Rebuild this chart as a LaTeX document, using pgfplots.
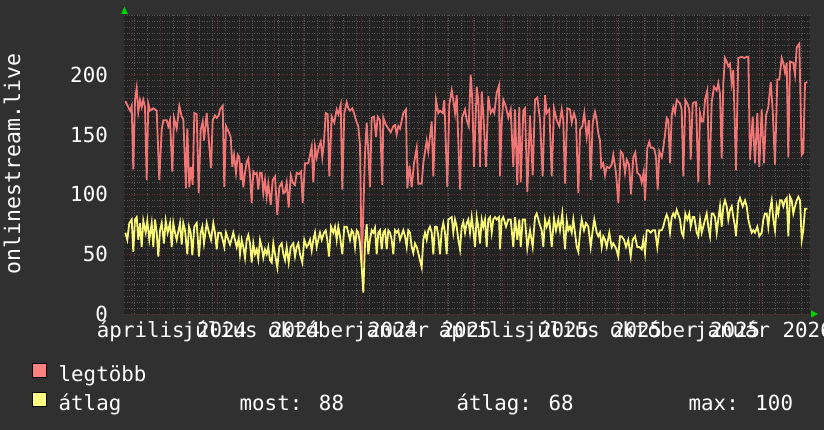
\documentclass[border=0pt]{standalone}
\usepackage{pgfplots}
\pgfplotsset{compat=1.18}
\usepackage{fontspec}
\setmainfont{DejaVu Sans Mono}
\definecolor{canvas}{RGB}{48,48,48}
\definecolor{plotbg}{RGB}{34,34,34}
\definecolor{mingrid}{RGB}{85,85,85}
\definecolor{majgrid}{RGB}{100,48,48}
\definecolor{redline}{RGB}{240,118,118}
\definecolor{yelline}{RGB}{248,248,118}
\definecolor{redbox}{RGB}{255,128,128}
\definecolor{yelbox}{RGB}{255,255,128}
\definecolor{arrowgreen}{RGB}{0,210,0}
\newcommand\lfont{\fontsize{20.8pt}{24pt}\selectfont}
\begin{document}
\begin{tikzpicture}
\useasboundingbox (0pt,0pt) rectangle (824pt,430pt);
\fill[canvas] (0pt,0pt) rectangle (824pt,430pt);
\begin{axis}[
  at={(124pt,116pt)}, anchor=south west,
  scale only axis, width=686pt, height=299pt,
  xmin=124, xmax=810, ymin=0, ymax=250,
  axis background/.style={fill=plotbg},
  axis line style={draw=none},
  xtick={131.7,160.69,188.75,217.75,245.81,274.80,303.79,331.85,360.85,388.91,417.90,446.90,473.08,502.08,530.14,559.13,587.20,616.19,645.18,673.24,702.23,730.29,759.29,788.28},
  xticklabels={},
  minor xtick={134.2,147.29,...,810},
  extra x ticks={172.1,251.4,343.1,422.9,514.1,593.4,685.1,763.9},
  extra x tick labels={április 2024,július 2024,október 2024,január 2025,április 2025,július 2025,október 2025,január 2026},
  extra x tick style={grid=none},
  ytick={0,50,100,150,200},
  minor ytick={0,5,...,250},
  grid=both,
  major grid style={draw=majgrid, line width=0.7pt, dash pattern=on 1pt off 1.5pt},
  minor grid style={draw=mingrid, line width=0.7pt, dash pattern=on 1pt off 1.5pt},
  major tick length=0pt, minor tick length=0pt,
  tick style={draw=none},
  /pgf/number format/assume math mode=true,
  every tick label/.append style={font=\lfont, text=white, inner sep=0pt},
  xticklabel style={anchor=base, yshift=-24pt},
  yticklabel style={anchor=east, xshift=-16pt},
  clip=false,
  legend cell align=left,
  legend style={at={(axis description cs:-0.13411,-0.1629)}, anchor=north west,
    draw=none, fill=none, inner sep=0pt, outer sep=0pt, row sep=6pt,
    nodes={inner sep=0pt, text=white, font=\lfont, text height=15pt, text depth=5pt},
    /tikz/every odd column/.append style={column sep=12pt}},
]
\addplot[redline, line width=1.8pt, sharp plot,
  legend image code/.code={\draw[black, fill=redbox, line width=0.7pt] (0pt,-1pt) rectangle (14pt,13pt);}]
coordinates {
(125.3,178) (128.3,173) (130,170) (131.7,174) (133.3,121) (135,179) (136.7,189) (138.3,169) (140,179) (141.7,173) (143.3,179) (145,173) (146.7,112) (148.3,176) (150,170) (153.3,172) (156.7,170) (159.3,112) (161.7,154) (163.3,162) (166.7,162) (168.3,157) (170,162) (172.3,119) (174,164) (176.7,155) (179.3,174) (181.7,165) (183.3,163) (186,105) (187.3,155) (189.3,106) (191,123) (192.7,108) (194.3,168) (196.7,167) (198.7,101) (200.7,154) (202.7,161) (204,145) (206.7,168) (208.3,151) (211,122) (212.7,162) (215,166) (216.7,164) (218.7,166) (220,171) (222.7,174) (224.3,106) (226,157) (228.3,153) (230.7,148) (232.3,123) (234,133) (236,118) (237.7,133) (239.3,131) (240.7,112) (241.7,126) (243.3,106) (245,118) (246.7,127) (248.3,130) (250,116) (251.7,93) (253.3,119) (255,117) (256.7,118) (258.3,104) (260,118) (261.7,118) (263.3,101) (265,112) (266.7,98) (268.3,109) (270.7,91) (272.7,112) (275,115) (277.3,83) (279.3,106) (281.7,110) (283.3,101) (285,102) (286.7,110) (288.7,89) (290.7,116) (292.7,110) (295,108) (296.7,118) (299,117) (301,119) (302.7,93) (305,126) (308.3,126) (311.7,140) (313.3,110) (315,140) (316.7,131) (319,140) (320.7,144) (322.3,131) (324,144) (325.7,168) (327.7,167) (329.3,115) (331.7,165) (334.3,160) (336.7,171) (338.3,167) (340.7,175) (342.3,104) (344.3,168) (346.7,177) (348.3,172) (350,170) (352.3,172) (354,168) (356,162) (358.3,157) (360,141) (361.7,40) (365,134) (366.7,160) (368.3,135) (370,106) (371.7,164) (374,165) (376,148) (377.7,165) (380,162) (382.3,108) (383.3,164) (386,158) (388.3,155) (390.7,152) (393.3,157) (395,158) (396.7,150) (398.3,157) (400,155) (403.3,168) (406,171) (407.3,105) (409.5,124) (411.7,106) (414,126) (416.7,139) (418.3,109) (421.7,109) (423.3,126) (426.7,145) (428.3,136) (431.7,161) (433.3,115) (436,179) (438.3,168) (440,170) (442.7,168) (444.3,179) (447.3,106) (449.3,175) (451.7,187) (453.3,179) (455,168) (456.7,183) (460,104) (462,164) (465,171) (466.7,162) (468.7,157) (470.7,200) (472.3,179) (474,123) (476.7,190) (478.3,179) (480,123) (481.7,186) (483.3,168) (486,123) (488.3,182) (490.7,168) (492.7,171) (494.3,168) (496.7,185) (499,191) (500,115) (501.7,160) (503.3,179) (506,173) (508.3,164) (510.7,171) (513.3,123) (515,171) (517.3,108) (519.3,173) (520.7,110) (523.3,170) (525,172) (527.3,102) (530,166) (532.7,116) (535,179) (537.3,181) (540,162) (542.7,115) (545,183) (546.7,168) (549.3,171) (551.7,115) (554,172) (556.7,162) (559.3,157) (561.7,171) (563.3,162) (565,109) (567.3,172) (570,171) (571.7,160) (574,168) (576,162) (578.3,101) (580,154) (582.3,157) (584.3,168) (586.7,148) (589,162) (590.7,112) (592.7,160) (595,169) (596.7,162) (598.3,151) (600,145) (601.3,123) (603.3,126) (605,116) (606.7,123) (609.3,122) (611.7,125) (613.3,133) (616,118) (618.3,93) (620.7,136) (622.7,134) (625,118) (626.7,129) (629,125) (631,100) (633.3,131) (635.3,135) (637.3,118) (640,116) (641.7,110) (643.7,119) (645,95) (647.3,139) (649.3,144) (650.7,139) (652.7,139) (654.3,138) (656,131) (657.7,104) (659.3,136) (661.7,131) (663.3,139) (665,150) (666.7,164) (668.3,162) (670,126) (671.7,166) (673.3,173) (675,168) (676.7,179) (680,176) (681.7,171) (683.3,115) (685.3,179) (687.3,176) (689.3,171) (690.7,129) (692.7,176) (694.3,177) (696,177) (698.3,110) (700,168) (701.7,161) (703.3,161) (705,179) (707.3,187) (709.3,108) (711.7,177) (714,190) (716.7,187) (718.3,193) (720,184) (721.7,130) (723.3,193) (725,214) (726.7,211) (728.3,207) (730,209) (731.7,193) (733.3,204) (736,120) (738.3,214) (741.7,215) (744.3,214) (746.7,215) (748.3,215) (750,129) (752.7,165) (755,126) (757.3,168) (759.3,123) (761.7,171) (764,126) (766,166) (768.3,173) (770.7,194) (772.7,170) (775,125) (777.3,196) (779.3,196) (781.7,214) (783.3,210) (785,202) (786.7,210) (788.3,131) (790,211) (793.3,210) (795,200) (796.7,223) (799.3,226) (801.7,133) (803.3,135) (805,193) (807.3,194)
};
\addlegendentry{legtöbb}
\addplot[yelline, line width=1.8pt, sharp plot,
  legend image code/.code={\draw[black, fill=yelbox, line width=0.7pt] (0pt,-1pt) rectangle (14pt,13pt);}]
coordinates {
(125.3,68) (127.3,62) (129.3,76) (131.7,79) (133.3,52) (135,79) (136.7,81) (138.3,62) (140,76) (141.7,56) (143.3,78) (145.7,68) (147.3,78) (149.3,62) (151.7,76) (153.3,56) (155,79) (156.7,68) (158.3,48) (160,70) (161.7,76) (164,59) (165.7,78) (167.7,68) (170,76) (171.7,56) (173.3,76) (175,68) (176.7,62) (180,76) (181.7,58) (183.3,76) (185,70) (187.3,50) (189,73) (190.7,68) (192.3,49) (194.3,73) (196.7,76) (199,48) (200.7,68) (202.3,73) (204,59) (206.7,76) (209,68) (211,62) (213.3,76) (215,68) (216.7,54) (218.3,68) (220.7,68) (222.7,62) (224.3,56) (226,68) (228.3,62) (230,58) (233.3,68) (235,62) (236.7,56) (238.7,63) (240,50) (241.7,62) (243.3,56) (245,47) (246.7,62) (248.3,66) (250,59) (251.7,43) (253.3,59) (255,50) (256.7,54) (258.3,46) (260,62) (261.7,56) (263.3,47) (265,54) (266.7,50) (268.3,56) (270,45) (271.7,43) (273.3,59) (275,50) (277.3,39) (279.3,56) (281.7,59) (283.3,50) (285,45) (286.7,56) (288.7,43) (290.7,56) (293.3,59) (295,48) (296.7,56) (298.3,59) (300,50) (302.3,43) (304.3,62) (306.7,56) (308.3,58) (310,62) (311.7,53) (313.3,62) (315,68) (316.7,56) (318.3,62) (320,68) (321.7,62) (324,68) (325.7,70) (327.3,62) (329,48) (331,73) (333.3,68) (335,73) (336.7,62) (338.3,73) (340,65) (342.3,50) (344.3,73) (346.7,73) (348.3,68) (350,62) (351.7,70) (353.3,68) (355,56) (356.7,70) (358.3,68) (360,59) (361.7,39) (363.3,18) (365,59) (366.7,75) (368.3,50) (370,62) (371.7,70) (373.3,68) (375,72) (376.7,50) (378.3,68) (380,70) (381.7,54) (383.3,68) (385,70) (386.7,54) (388.3,70) (390,68) (391.7,62) (393.3,50) (395,70) (396.7,68) (398.3,70) (400,62) (403.3,70) (405,65) (406.7,56) (408.3,70) (410,68) (411.7,56) (413.3,51) (415,59) (416.7,56) (418.3,51) (420,45) (421.7,39) (423.3,62) (425,68) (426.7,62) (428.3,70) (430,73) (431.7,68) (433.3,50) (435,73) (436.7,73) (438.3,65) (440,50) (441.7,70) (443.3,76) (445,68) (446.7,50) (448.3,79) (450,80) (451.7,81) (453.3,68) (455,79) (456.7,73) (458.3,62) (460,54) (461.7,73) (463.3,77) (465,68) (466.7,76) (468.3,79) (470,68) (471.7,81) (473.3,70) (475,56) (476.7,81) (478.3,73) (480,59) (481.7,79) (483.3,73) (485,79) (486.7,56) (488.3,79) (490,81) (491.7,68) (493.3,79) (495,81) (496.7,79) (499,81) (500,54) (501.7,79) (503.3,81) (506,73) (508.3,79) (510.7,79) (513.3,56) (515,81) (517.3,62) (519.3,79) (520.7,56) (522.7,79) (525,79) (527.3,55) (530,70) (532.7,56) (535,81) (536.7,84) (539.3,76) (541.7,70) (543.3,56) (545,79) (546.7,73) (549.3,79) (551.7,56) (554,80) (556,70) (558.3,79) (560,70) (562.3,84) (565,54) (566.7,78) (568.3,70) (570,73) (571.7,68) (573.3,79) (575,68) (576.7,56) (578.3,52) (580,68) (581.7,79) (584,70) (586,76) (588.3,73) (590.7,56) (592.7,70) (594.3,79) (596.7,68) (598.3,65) (600,68) (601.7,56) (603.3,65) (605,62) (606.7,56) (609.3,68) (611.7,56) (613.3,59) (616,55) (618.3,48) (620,65) (621.7,65) (624,62) (626,56) (628.3,62) (630.7,48) (632.7,62) (635,65) (637.3,56) (639.3,56) (641.7,54) (643.3,62) (645,51) (646.7,70) (648.3,70) (650.7,68) (652.7,70) (655,70) (657.3,56) (659.3,70) (661.7,70) (663.3,73) (665,79) (666.7,83) (668.3,79) (670,68) (671.7,81) (673.3,84) (675,81) (676.7,87) (680,79) (681.7,68) (683.3,65) (685.3,84) (687.3,79) (689.3,84) (690.7,73) (692.7,81) (694.3,81) (696.7,68) (698.3,65) (700,79) (701.7,68) (703.3,73) (705,79) (706.7,84) (708.3,73) (710,65) (711.7,84) (713.3,84) (715,81) (716.7,68) (718.3,79) (720,90) (721.7,73) (723.3,90) (725,95) (726.7,90) (728.3,79) (730,87) (731.7,90) (733.3,81) (735,73) (736,65) (738.3,93) (740,97) (742.7,90) (745,95) (746.7,90) (748.3,79) (750,73) (751.7,68) (753.3,70) (755,68) (757.3,73) (759.3,65) (761.7,68) (763.3,79) (765,84) (766.7,84) (768.3,73) (770,87) (771.7,95) (773.3,79) (775,70) (776.7,90) (778.3,84) (780,95) (781.7,95) (783.3,90) (785,95) (786.7,97) (788.3,65) (790,98) (791.7,95) (793.3,84) (795,90) (796.7,95) (798.3,98) (800,95) (801.7,62) (803.3,70) (805,88) (807.3,88)
};
\addlegendentry{\makebox[181pt][l]{átlag}\makebox[217pt][l]{most: 88}\makebox[232pt][l]{átlag: 68}max: 100}
\end{axis}
% axis arrows
\fill[arrowgreen] (121pt,416pt) -- (128pt,416pt) -- (124.5pt,423pt) -- cycle;
\fill[arrowgreen] (811pt,112.5pt) -- (811pt,119.5pt) -- (818pt,116pt) -- cycle;
\node[rotate=90, anchor=base, text=white, font=\fontsize{21.5pt}{25pt}\selectfont, inner sep=0pt] at (20pt,266pt) {onlinestream.live};
\end{tikzpicture}
\end{document}
